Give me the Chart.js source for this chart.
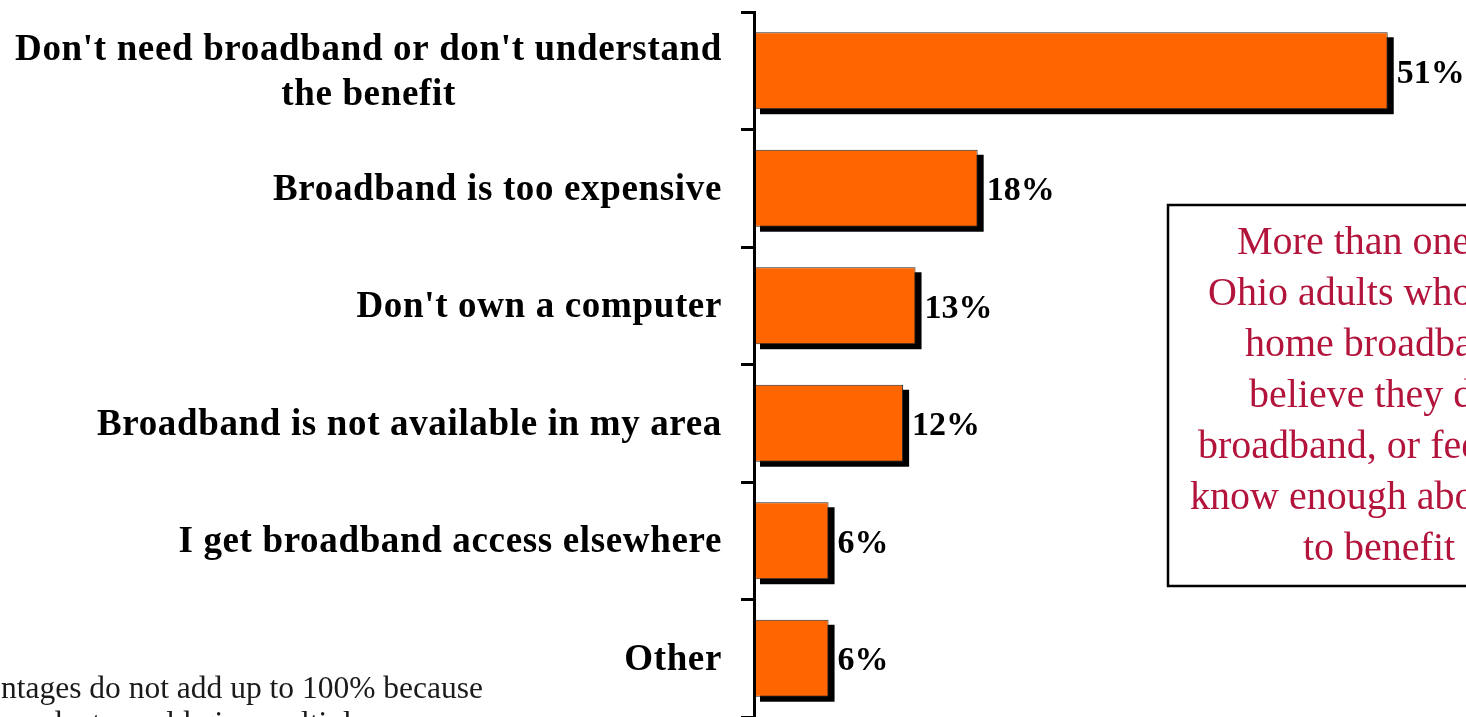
<!DOCTYPE html>
<html>
<head>
<meta charset="utf-8">
<script src="https://cdn.jsdelivr.net/npm/chart.js@4/dist/chart.umd.min.js"></script>
<style>
    html, body { margin: 0; padding: 0; background: #fff; overflow: hidden; }
    #wrap { position: relative; width: 1466px; height: 717px; }
</style>
</head>
<body>
<div id="wrap"><canvas id="reasonsChart"></canvas></div>
<script>
// Reasons for not having home broadband (percent of respondents)
const categories = [
    ["Don't need broadband or don't understand", "the benefit"],
    "Broadband is too expensive",
    "Don't own a computer",
    "Broadband is not available in my area",
    "I get broadband access elsewhere",
    "Other"
];
const percentages = [51, 18, 13, 12, 6, 6];
const xMax = 57.3;

const noteLines = [
    'More than one-half of',
    'Ohio adults who do not have',
    'home broadband service',
    'believe they do not need',
    'broadband, or feel they don\'t',
    'know enough about broadband',
    'to benefit from it.'
];
const footnoteLines = [
    '*Percentages do not add up to 100% because',
    'respondents could give multiple answers.'
];

const SERIF = '"Liberation Serif", "Times New Roman", serif';

// black drop shadow behind each bar
const shadowPlugin = {
    id: 'barShadow',
    beforeDatasetsDraw(chart) {
        const ctx = chart.ctx;
        ctx.save();
        ctx.fillStyle = '#000';
        chart.getDatasetMeta(0).data.forEach(bar => {
            const h = bar.height;
            ctx.fillRect(bar.base + 6, bar.y - h / 2 + 5, bar.x - bar.base, h);
        });
        ctx.restore();
    }
};

const labelPlugin = {
    id: 'labels',
    afterDraw(chart) {
        const ctx = chart.ctx;
        const yScale = chart.scales.y;
        ctx.save();

        // category labels, multi-line blocks centred on themselves, right edge at 722
        ctx.fillStyle = '#000';
        ctx.font = `bold 37px ${SERIF}`;
        ctx.letterSpacing = '0.65px';
        ctx.textBaseline = 'middle';
        ctx.textAlign = 'center';
        categories.forEach((label, i) => {
            const lines = Array.isArray(label) ? label : [label];
            const maxW = Math.max(...lines.map(l => ctx.measureText(l).width));
            const cx = 722 - maxW / 2;
            const y = yScale.getPixelForTick(i);
            lines.forEach((line, k) => {
                ctx.fillText(line, cx, y + (k - (lines.length - 1) / 2) * 45 + 2);
            });
        });

        // value labels
        ctx.letterSpacing = '0px';
        ctx.font = `bold 34px ${SERIF}`;
        ctx.textAlign = 'left';
        chart.getDatasetMeta(0).data.forEach((bar, i) => {
            ctx.fillText(percentages[i] + '%', bar.x + 9, bar.y + 3);
        });

        // annotation box
        ctx.strokeStyle = '#000';
        ctx.lineWidth = 2.5;
        ctx.strokeRect(1168, 205, 400, 381);
        ctx.fillStyle = '#B3143C';
        ctx.font = `40px ${SERIF}`;
        ctx.textBaseline = 'alphabetic';
        const noteX = [1237, 1208, 1245, 1249, 1198, 1190, 1303];
        noteLines.forEach((line, k) => {
            ctx.fillText(line, noteX[k], 254 + k * 51);
        });

        // footnote
        ctx.fillStyle = '#1a1a1a';
        ctx.font = `31.5px ${SERIF}`;
        ctx.textAlign = 'right';
        footnoteLines.forEach((line, k) => {
            ctx.fillText(line, 483, 698 + k * 35);
        });
        ctx.restore();
    }
};

new Chart(document.getElementById('reasonsChart'), {
    type: 'bar',
    data: {
        labels: categories,
        datasets: [{
            data: percentages,
            backgroundColor: '#FF6600',
            borderColor: '#2a2a2a',
            borderWidth: 1,
            categoryPercentage: 1,
            barPercentage: 0.655
        }]
    },
    options: {
        indexAxis: 'y',
        animation: false,
        responsive: true,
        maintainAspectRatio: false,
        layout: { padding: { top: 12, right: 0, bottom: 0, left: 0 } },
        plugins: {
            legend: { display: false },
            tooltip: { enabled: false }
        },
        scales: {
            x: { display: false, min: 0, max: xMax },
            y: {
                afterFit: scale => { scale.width = 754; },
                ticks: { display: false },
                grid: {
                    offset: true,
                    drawOnChartArea: false,
                    drawTicks: true,
                    tickLength: 13,
                    color: '#000',
                    lineWidth: 3,
                    z: 1
                },
                border: { display: true, color: '#000', width: 3, z: 1 }
            }
        }
    },
    plugins: [shadowPlugin, labelPlugin]
});
</script>
</body>
</html>
